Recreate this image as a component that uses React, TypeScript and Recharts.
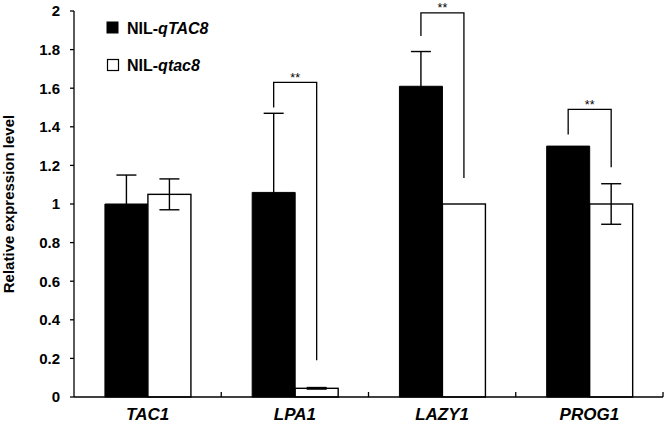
import React from 'react';
import { BarChart, Bar, XAxis, YAxis, ErrorBar } from 'recharts';

const categories = ['TAC1', 'LPA1', 'LAZY1', 'PROG1'];
const qTAC8 = [1.0, 1.06, 1.61, 1.3];
const qTAC8Err = [0.15, 0.41, 0.18, 0];
const qtac8 = [1.05, 0.045, 1.0, 1.0];
const qtac8Err = [0.08, 0.004, 0, 0.105];
const sigTop = [null, 1.63, 1.99, 1.49];
const sigLeft = [null, 1.5, 1.87, 1.36];
const sigRight = [null, 0.19, 1.135, 1.19];
const sigLabel = ['', '**', '**', '**'];
const yTicks = [0, 0.2, 0.4, 0.6, 0.8, 1, 1.2, 1.4, 1.6, 1.8, 2];
const seriesNames = ['qTAC8', 'qtac8'];

const data = categories.map((c, i) => ({
  name: c,
  qTAC8: qTAC8[i],
  qTAC8Err: qTAC8Err[i],
  qtac8: qtac8[i],
  qtac8Err: qtac8Err[i],
  sigTop: sigTop[i],
  sigLeft: sigLeft[i],
  sigRight: sigRight[i],
  sigLabel: sigLabel[i],
}));

const FONT = '"Liberation Sans", Arial, sans-serif';
const W = 666;
const H = 424;
const MARGIN = { top: 11, right: 3, left: 0, bottom: 0 };
const Y_W = 74;
const X_H = 27;
const BAND = (W - MARGIN.left - MARGIN.right - Y_W) / categories.length;

const WhiteBar = (props: any) => {
  const { x, y, width, height, payload, value } = props;
  const v = Array.isArray(value) ? value[1] - value[0] : value;
  const bottom = y + height;
  const k = v ? height / v : 0;
  const py = (t: number) => bottom - t * k;
  const els: any[] = [
    <rect key="r" x={x} y={y} width={width} height={height} fill="#fff" stroke="#000" strokeWidth={1.4} />,
  ];
  if (payload && payload.sigTop != null && k) {
    const lc = x - width / 2;
    const rc = x + width / 2;
    const top = py(payload.sigTop);
    els.push(
      <path
        key="b"
        d={`M${lc},${py(payload.sigLeft)} V${top} H${rc} V${py(payload.sigRight)}`}
        fill="none"
        stroke="#000"
        strokeWidth={1.3}
      />
    );
    els.push(
      <text key="t" x={(lc + rc) / 2} y={top - 0.5} textAnchor="middle" fontFamily={FONT} fontSize={12.5} fill="#000">
        {payload.sigLabel}
      </text>
    );
  }
  return <g>{els}</g>;
};

const XTick = (props: any) => {
  const { x, y, payload } = props;
  return (
    <g>
      <line x1={x + BAND / 2} x2={x + BAND / 2} y1={y} y2={y - 5} stroke="#000" strokeWidth={1.3} />
      <text x={x} y={y + 23} textAnchor="middle" fontFamily={FONT} fontSize={17} fontWeight="bold" fontStyle="italic" fill="#000">
        {payload.value}
      </text>
    </g>
  );
};

const YLabel = (props: any) => {
  const vb = props.viewBox || { x: 0, y: 11, width: 74, height: 386 };
  const cx = vb.x + 8.5;
  const cy = vb.y + vb.height / 2;
  return (
    <text
      x={cx}
      y={cy}
      transform={`rotate(-90, ${cx}, ${cy})`}
      textAnchor="middle"
      dominantBaseline="central"
      fontFamily={FONT}
      fontSize={15}
      fontWeight="bold"
      fill="#000"
    >
      Relative expression level
    </text>
  );
};

const LegendBox = () => (
  <svg width={200} height={70} style={{ position: 'absolute', left: 105, top: 14, display: 'block' }}>
    <rect x={2} y={8} width={11} height={11} fill="#000" stroke="#000" />
    <text x={22} y={20} fontFamily={FONT} fontSize={16} fontWeight="bold" fill="#000">
      NIL-<tspan fontStyle="italic">{seriesNames[0]}</tspan>
    </text>
    <rect x={2.5} y={45.5} width={11} height={11} fill="#fff" stroke="#000" strokeWidth={1.2} />
    <text x={22} y={57} fontFamily={FONT} fontSize={16} fontWeight="bold" fill="#000">
      NIL-<tspan fontStyle="italic">{seriesNames[1]}</tspan>
    </text>
  </svg>
);

export default function App() {
  return (
    <div style={{ position: 'absolute', left: 0, top: 0, width: W, height: H, background: '#fff' }}>
      <BarChart width={W} height={H} data={data} margin={MARGIN} barCategoryGap="21%" barGap={0}>
        <XAxis
          dataKey="name"
          height={X_H}
          axisLine={{ stroke: '#000', strokeWidth: 1.3 }}
          tickLine={false}
          tickSize={0}
          tickMargin={0}
          tick={<XTick />}
          interval={0}
        />
        <YAxis
          width={Y_W}
          domain={[0, 2]}
          ticks={yTicks}
          axisLine={{ stroke: '#000', strokeWidth: 1.3 }}
          tickLine={{ stroke: '#000', strokeWidth: 1.3 }}
          tickSize={4}
          tickMargin={10}
          tick={{ fontFamily: FONT, fontSize: 15, fontWeight: 'bold', fill: '#000' }}
          tickFormatter={(v: number) => String(Math.round(v * 10) / 10)}
          label={<YLabel />}
        />
        <Bar dataKey="qTAC8" name={seriesNames[0]} fill="#000" stroke="#000" isAnimationActive={false}>
          <ErrorBar dataKey="qTAC8Err" width={10} stroke="#000" strokeWidth={1.4} />
        </Bar>
        <Bar dataKey="qtac8" name={seriesNames[1]} fill="#fff" stroke="#000" shape={<WhiteBar />} isAnimationActive={false}>
          <ErrorBar dataKey="qtac8Err" width={10} stroke="#000" strokeWidth={1.4} />
        </Bar>
      </BarChart>
      <LegendBox />
    </div>
  );
}
